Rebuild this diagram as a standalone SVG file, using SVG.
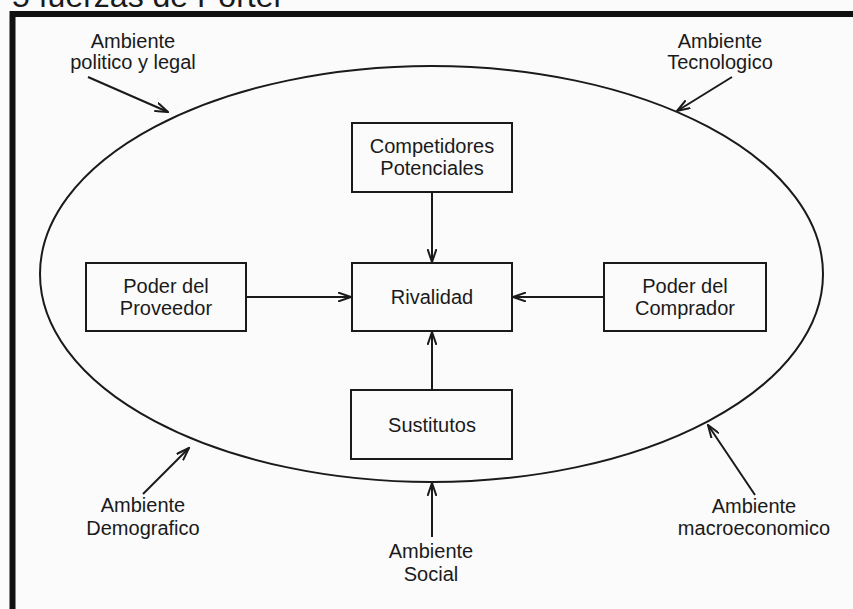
<svg xmlns="http://www.w3.org/2000/svg" width="853" height="609" viewBox="0 0 853 609">
<defs>
<style>
text{font-family:"Liberation Sans",Arial,sans-serif;fill:#1a1a1a;text-anchor:middle;font-size:20px}
.box{fill:none;stroke:#1a1a1a;stroke-width:2}
.con{fill:none;stroke:#1a1a1a;stroke-width:2;marker-end:url(#ah)}
</style>
<marker id="ah" viewBox="0 0 14 10" refX="13" refY="5" markerWidth="14" markerHeight="10" markerUnits="userSpaceOnUse" orient="auto">
<path d="M0,0.5 L13,5 L0,9.5" fill="none" stroke="#1a1a1a" stroke-width="2"/>
</marker>
</defs>
<rect width="853" height="609" fill="#fbfbfb"/>
<text x="12" y="7" style="text-anchor:start;font-size:32px">5 fuerzas de Porter</text>
<path d="M12.5,609 V14 H853" fill="none" stroke="#111" stroke-width="6"/>
<ellipse id="ambiente" cx="431.5" cy="274" rx="391.5" ry="208" fill="none" stroke="#1a1a1a" stroke-width="2"/>
<g id="connectors">
<line class="con" x1="432" y1="192" x2="432" y2="262"/>
<line class="con" x1="246" y1="297" x2="351" y2="297"/>
<line class="con" x1="604" y1="297" x2="513" y2="297"/>
<line class="con" x1="432" y1="390" x2="432" y2="332"/>
<line class="con" x1="88" y1="77" x2="168" y2="112"/>
<line class="con" x1="732" y1="77" x2="677" y2="111"/>
<line class="con" x1="143" y1="494" x2="189" y2="448"/>
<line class="con" x1="755" y1="495" x2="708" y2="425"/>
<line class="con" x1="432" y1="537" x2="432" y2="483"/>
</g>
<g id="competidores">
<rect class="box" x="352" y="123" width="160" height="69"/>
<text x="432" y="153">Competidores</text>
<text x="432" y="175">Potenciales</text>
</g>
<g id="rivalidad">
<rect class="box" x="352" y="263" width="160" height="68"/>
<text x="432" y="304">Rivalidad</text>
</g>
<g id="proveedor">
<rect class="box" x="86" y="263" width="160" height="68"/>
<text x="166" y="293">Poder del</text>
<text x="166" y="315">Proveedor</text>
</g>
<g id="comprador">
<rect class="box" x="604" y="263" width="162" height="68"/>
<text x="685" y="293">Poder del</text>
<text x="685" y="315">Comprador</text>
</g>
<g id="sustitutos">
<rect class="box" x="351" y="390" width="161" height="69"/>
<text x="432" y="432">Sustitutos</text>
</g>
<g id="amb-politico">
<text x="133" y="48">Ambiente</text>
<text x="133" y="69">politico y legal</text>
</g>
<g id="amb-tecnologico">
<text x="720" y="48">Ambiente</text>
<text x="720" y="69">Tecnologico</text>
</g>
<g id="amb-demografico">
<text x="143" y="512">Ambiente</text>
<text x="143" y="535">Demografico</text>
</g>
<g id="amb-macro">
<text x="754" y="513">Ambiente</text>
<text x="754" y="535">macroeconomico</text>
</g>
<g id="amb-social">
<text x="431" y="558">Ambiente</text>
<text x="431" y="581">Social</text>
</g>
</svg>
